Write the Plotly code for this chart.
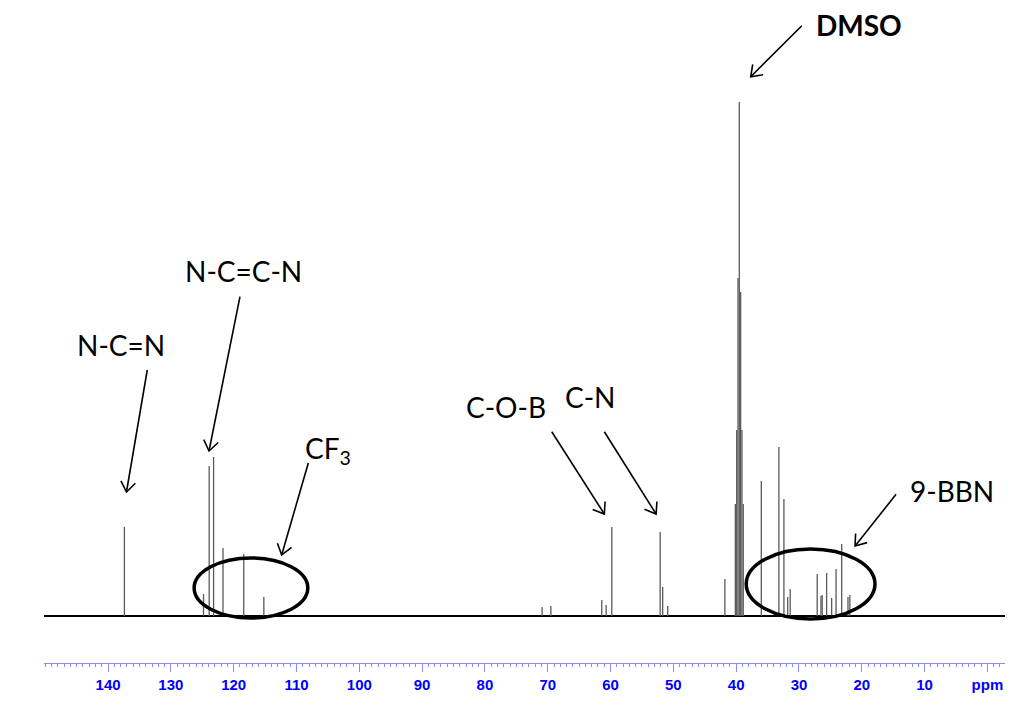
import math
import plotly.graph_objects as go

# ---- data ----
peak_ppm = [137.4, 124.8, 123.9, 123.2, 121.7, 118.4, 115.2,
            70.9, 69.5, 61.4, 60.7, 59.8, 52.1, 51.7, 50.9, 41.8,
            40.13, 39.92, 39.71, 39.50, 39.29, 39.08, 38.87,
            36.0, 33.2, 32.4, 31.8, 31.4, 27.1, 26.5, 26.3, 25.6, 24.8,
            24.1, 23.2, 22.2, 21.9]
peak_int = [89, 22, 150, 159, 68, 62, 19,
            9, 10, 16, 11, 89, 84, 29, 10, 37,
            112, 186, 338, 514, 324, 186, 112,
            135, 169, 117, 19, 27, 42, 20, 21, 43, 18,
            47, 72, 19, 21]
baseline_ppm = [150.2, -2.8]
baseline_int = [0, 0]

tick_vals = [140, 130, 120, 110, 100, 90, 80, 70, 60, 50, 40, 30, 20, 10, 0]
tick_text = ["140", "130", "120", "110", "100", "90", "80", "70", "60",
             "50", "40", "30", "20", "10", "ppm"]

# labels (x ppm, y intensity)
label_text = ["N-C=N", "N-C=C-N", "CF<sub>3</sub>", "C-O-B", "C-N", "DMSO", "9-BBN"]
label_x = [137.9, 118.4, 105.0, 76.7, 63.3, 20.4, 5.6]
label_y = [271, 345, 166, 209, 219.5, 591, 125]
label_bold = [False, False, False, False, False, True, False]

# arrows: tail -> tip (ppm, intensity)
arrow_tail_x = [133.76, 119.0, 108.12, 69.36, 60.99, 29.55, 14.54]
arrow_tail_y = [246, 319.3, 153, 184.3, 184.3, 590.3, 121.7]
arrow_tip_x = [137.07, 123.93, 112.36, 60.99, 52.75, 37.68, 21.07]
arrow_tip_y = [124, 165, 61, 102, 102, 539.3, 70]

# ellipses (ppm / intensity bounds)
ell_x0 = [126.3, 38.4]
ell_x1 = [108.2, 17.9]
ell_y0 = [-2, -3]
ell_y1 = [58, 67]

# ---- layout geometry ----
W, H = 1016, 698
ML, MR, MT, MB = 36, 19, 0, 43
XR = [150.2, -2.8]
YR = [-47, 608]
kx = (W - ML - MR) / (XR[0] - XR[1])   # px per ppm (ppm decreases to the right)
ky = (H - MT - MB) / (YR[1] - YR[0])   # px per intensity unit

# ---- build stick spectrum ----
sx, sy = [], []
for p, h in zip(peak_ppm, peak_int):
    sx += [p, p, None]
    sy += [0, h, None]

fig = go.Figure()
fig.add_trace(go.Scatter(x=baseline_ppm, y=baseline_int, mode="lines",
                         line=dict(color="black", width=2.2), hoverinfo="skip"))
fig.add_trace(go.Scatter(x=sx, y=sy, mode="lines",
                         line=dict(color="#5a5a5a", width=1.3), hoverinfo="skip"))

annotations = []
for t, x, y, b in zip(label_text, label_x, label_y, label_bold):
    annotations.append(dict(
        x=x, y=y, xref="x", yref="y", text=f"<b>{t}</b>" if b else t,
        showarrow=False, xanchor="center", yanchor="middle",
        font=dict(family="Lato, Noto Sans, sans-serif", size=28, color="black")))

shapes = []
head_len, head_ang = 12.5, math.radians(36)
for tx, ty, hx, hy in zip(arrow_tail_x, arrow_tail_y, arrow_tip_x, arrow_tip_y):
    shapes.append(dict(type="line", xref="x", yref="y", x0=tx, y0=ty, x1=hx, y1=hy,
                       line=dict(color="black", width=1.6)))
    # direction in screen px (x right, y up)
    dx = -(hx - tx) * kx
    dy = (hy - ty) * ky
    ang = math.atan2(-dy, -dx)  # pointing back from tip to tail
    pts = []
    for s in (-1, 1):
        a = ang + s * head_ang
        px = hx - head_len * math.cos(a) / kx
        py = hy + head_len * math.sin(a) / ky
        pts.append((px, py))
    path = f"M {pts[0][0]},{pts[0][1]} L {hx},{hy} L {pts[1][0]},{pts[1][1]}"
    shapes.append(dict(type="path", xref="x", yref="y", path=path,
                       line=dict(color="black", width=1.6)))

for x0, x1, y0, y1 in zip(ell_x0, ell_x1, ell_y0, ell_y1):
    shapes.append(dict(type="circle", xref="x", yref="y",
                       x0=x0, x1=x1, y0=y0, y1=y1,
                       line=dict(color="black", width=3.5)))

fig.update_layout(
    width=W, height=H, autosize=False,
    margin=dict(l=ML, r=MR, t=MT, b=MB, pad=0),
    paper_bgcolor="white", plot_bgcolor="white",
    showlegend=False,
    annotations=annotations, shapes=shapes,
    xaxis=dict(
        range=XR, showgrid=False, zeroline=False,
        showline=True, linecolor="#8c8cff", linewidth=1,
        tickmode="array", tickvals=tick_vals, ticktext=tick_text,
        ticks="outside", ticklen=8, tickwidth=1, tickcolor="#8c8cff",
        tickfont=dict(family="Liberation Sans, Arial, sans-serif", size=15, color="#0000ff",
                      weight="bold"),
        minor=dict(tickmode="linear", tick0=0, dtick=1, ticks="outside",
                   ticklen=3, tickcolor="#8c8cff", tickwidth=1, showgrid=False),
    ),
    yaxis=dict(range=YR, visible=False, showgrid=False, zeroline=False),
)

fig.write_html("out.html")
